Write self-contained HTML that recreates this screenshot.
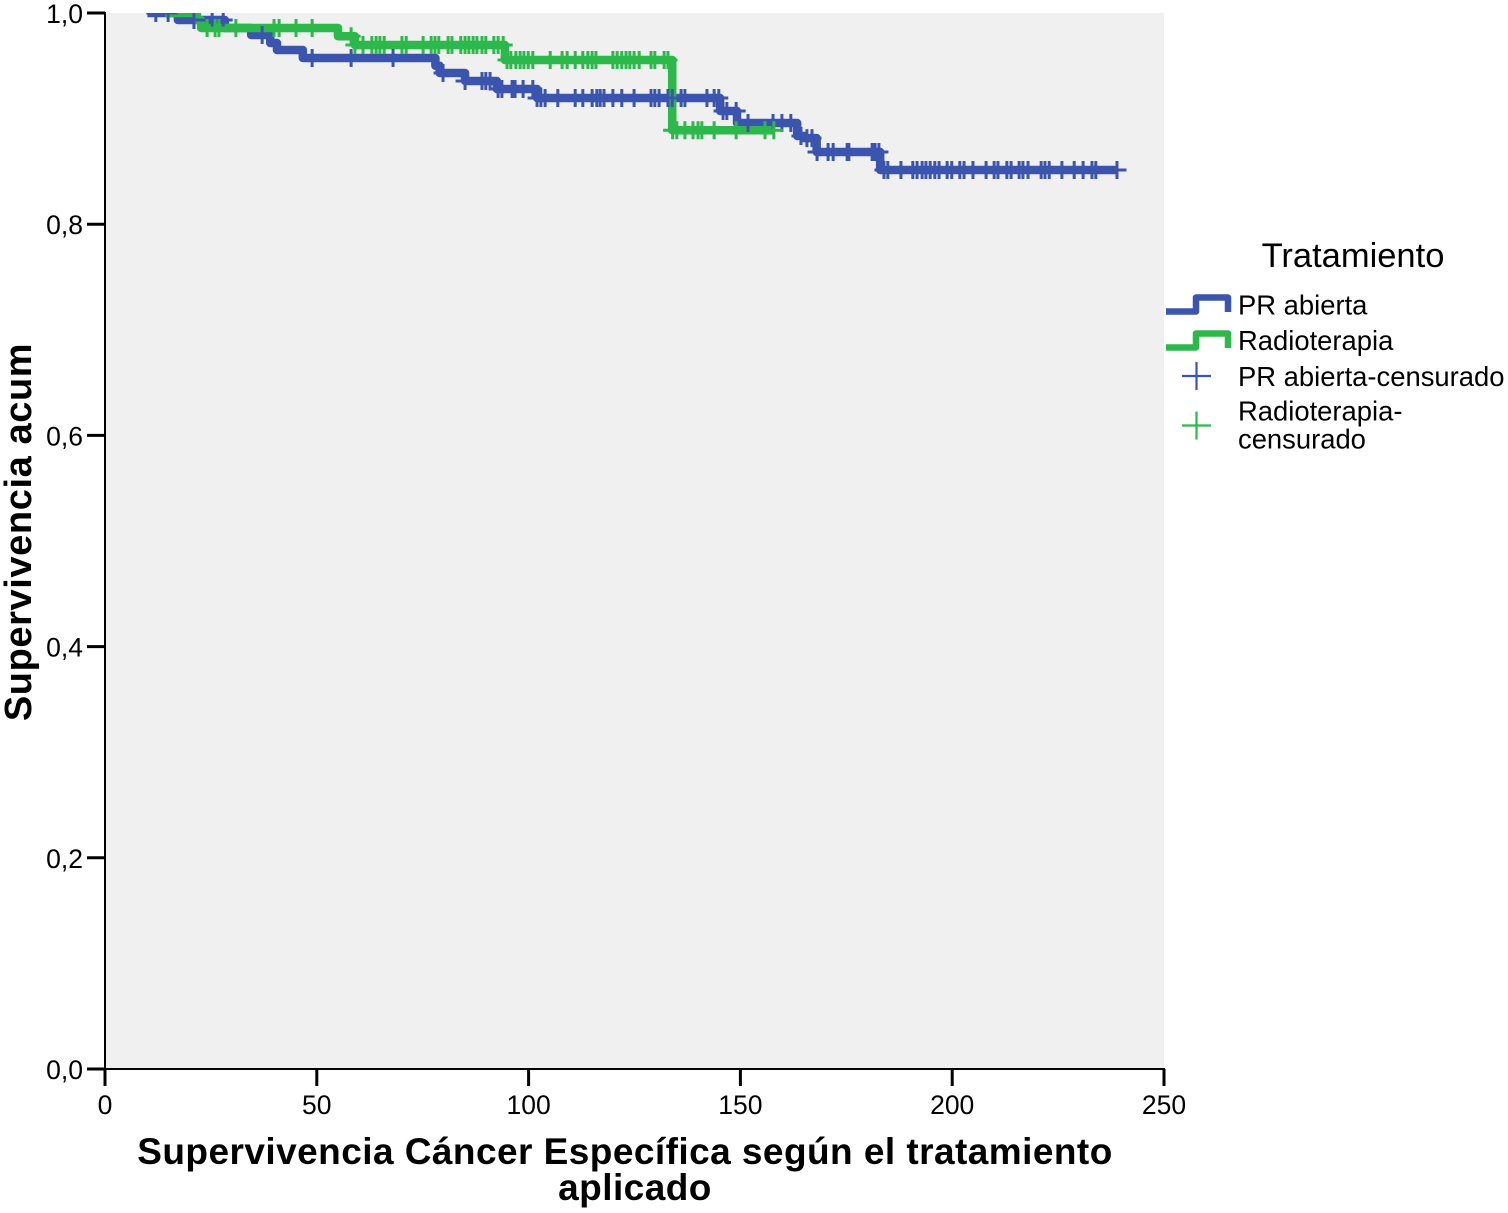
<!DOCTYPE html>
<html>
<head>
<meta charset="utf-8">
<title>Supervivencia</title>
<style>
html,body{margin:0;padding:0;background:#fff;width:1508px;height:1213px;overflow:hidden}
svg{display:block}
text{font-family:"Liberation Sans",Arial,sans-serif;fill:#000}
</style>
</head>
<body>
<svg id="chart" width="1508" height="1213" viewBox="0 0 1508 1213" xmlns="http://www.w3.org/2000/svg">
  <defs><clipPath id="plot-clip"><rect x="105" y="13" width="1059" height="1056"/></clipPath></defs>
  <rect x="106" y="13" width="1058" height="1056" fill="#f0f0f0"/>
  <g id="series" clip-path="url(#plot-clip)"></g>
  <g id="axes"></g>
  <text x="625" y="1164" text-anchor="middle" font-size="37" font-weight="bold" letter-spacing="0.45">Supervivencia Cáncer Específica según el tratamiento</text>
  <text x="635" y="1200" text-anchor="middle" font-size="37" font-weight="bold" letter-spacing="0.45">aplicado</text>
  <text transform="translate(31,532) rotate(-90)" text-anchor="middle" font-size="38" font-weight="bold" letter-spacing="0.6">Supervivencia acum</text>
  <g>
    <text x="1353" y="267" text-anchor="middle" font-size="34.5">Tratamiento</text>
    <path d="M1166 311.5H1196V297.5H1228V312" fill="none" stroke="#3b55ae" stroke-width="6.5" stroke-linejoin="round"/>
    <text x="1238" y="314.5" font-size="27.4">PR abierta</text>
    <path d="M1166 347.5H1196V333.5H1228V348" fill="none" stroke="#2cb84a" stroke-width="6.5" stroke-linejoin="round"/>
    <text x="1238" y="350" font-size="27.4">Radioterapia</text>
    <path d="M1182 376H1211M1196.5 362V390" stroke="#3b55ae" stroke-width="2.2" fill="none"/>
    <text x="1238" y="386" font-size="27.4">PR abierta-censurado</text>
    <path d="M1182 425.5H1211M1196.5 411.5V439.5" stroke="#2cb84a" stroke-width="2.2" fill="none"/>
    <text x="1238" y="420.5" font-size="27.4">Radioterapia-</text>
    <text x="1238" y="448.5" font-size="27.4">censurado</text>
  </g>
</svg>
<script>
var xTicks = [0, 50, 100, 150, 200, 250];
var yTicks = [0, 0.2, 0.4, 0.6, 0.8, 1.0];
var yTickLabels = ["0,0", "0,2", "0,4", "0,6", "0,8", "1,0"];

var prStart = 10;
var prEnd = 238.9;
var prStepTimes = [17.2, 28.3, 34.5, 39, 40.6, 46.7, 78, 79, 85, 92.5, 102, 145.2, 149.2, 163.4, 165, 168, 183];
var prStepSurvival = [0.9934, 0.9858, 0.9792, 0.9716, 0.965, 0.9574, 0.95, 0.9432, 0.9356, 0.928, 0.9195, 0.9072, 0.8958, 0.8835, 0.8815, 0.8684, 0.8513];
var prCensored = [12.0, 14.9, 21.0, 25.3, 27.9, 37.1, 48.9, 58.1, 68.0, 79.8, 85.0, 89.0, 89.9, 90.9, 92.8, 93.7, 96.1, 96.8, 98.7, 101.0, 102.0, 102.9, 103.9, 106.9, 111.0, 112.8, 115.0, 116.1, 116.9, 117.8, 119.9, 122.0, 124.9, 128.9, 129.8, 130.8, 132.9, 133.9, 136.0, 136.9, 142.1, 143.8, 144.9, 145.9, 146.8, 149.0, 151.8, 157.7, 159.8, 161.9, 164.3, 165.7, 166.9, 168.1, 170.7, 171.9, 175.2, 175.6, 181.1, 181.8, 182.7, 183.9, 184.8, 187.9, 190.7, 191.7, 192.9, 193.8, 194.8, 195.9, 196.9, 198.8, 199.9, 201.8, 202.8, 204.9, 208.0, 209.9, 210.8, 212.9, 213.9, 215.8, 216.7, 217.9, 221.0, 221.9, 222.9, 225.9, 228.8, 230.9, 233.0, 233.9, 238.9];

var rtStart = 14.2;
var rtEnd = 157.9;
var rtStepTimes = [21.7, 22.7, 55, 59, 94.4, 133.9];
var rtStepSurvival = [0.9934, 0.9858, 0.978, 0.9697, 0.9555, 0.889];
var rtCensored = [24.1, 26.0, 26.9, 30.9, 39.9, 41.1, 45.1, 48.9, 58.1, 59.0, 60.9, 63.0, 64.0, 64.9, 65.9, 70.1, 71.1, 75.1, 77.0, 77.9, 78.8, 81.0, 81.9, 84.0, 85.0, 85.9, 86.9, 87.8, 89.0, 89.9, 91.8, 92.8, 94.0, 94.9, 95.8, 97.0, 98.0, 98.9, 99.9, 101.0, 105.1, 107.9, 109.1, 111.0, 112.8, 114.0, 115.0, 115.9, 119.9, 120.9, 122.0, 123.0, 123.9, 124.9, 126.1, 128.9, 129.8, 132.0, 132.9, 134.0, 135.0, 136.9, 138.8, 140.0, 140.9, 143.8, 149.0, 155.8, 157.9];

var NS = 'http://www.w3.org/2000/svg';
function xScale(t) { return 105 + t * (1164 - 105) / 250; }
function yScale(s) { return 1069 - s * (1069 - 13); }

function survivalAt(t, times, values) {
  var s = 1;
  for (var i = 0; i < times.length; i++) { if (t >= times[i]) s = values[i]; }
  return s;
}
function stepPath(start, end, times, values) {
  var d = 'M' + xScale(start) + ' ' + yScale(1);
  for (var i = 0; i < times.length; i++) {
    d += 'H' + xScale(times[i]) + 'V' + yScale(values[i]);
  }
  return d + 'H' + xScale(end);
}
function censorPath(censored, times, values) {
  var d = '';
  for (var i = 0; i < censored.length; i++) {
    var x = xScale(censored[i]);
    var y = yScale(survivalAt(censored[i], times, values));
    d += 'M' + (x - 9.5) + ' ' + y + 'H' + (x + 9.5) + 'M' + x + ' ' + (y - 9) + 'V' + (y + 9);
  }
  return d;
}
var seriesGroup = document.getElementById('series');
var axesGroup = document.getElementById('axes');

var prLine = document.createElementNS(NS, 'path');


prLine.setAttribute('d', stepPath(prStart, prEnd, prStepTimes, prStepSurvival));
prLine.setAttribute('fill', 'none');
prLine.setAttribute('stroke', '#3b55ae');
prLine.setAttribute('stroke-width', '8.5');
prLine.setAttribute('stroke-linejoin', 'round');
seriesGroup.appendChild(prLine);

var rtLine = document.createElementNS(NS, 'path');


rtLine.setAttribute('d', stepPath(rtStart, rtEnd, rtStepTimes, rtStepSurvival));
rtLine.setAttribute('fill', 'none');
rtLine.setAttribute('stroke', '#2cb84a');
rtLine.setAttribute('stroke-width', '8.5');
rtLine.setAttribute('stroke-linejoin', 'round');
seriesGroup.appendChild(rtLine);

var prMarks = document.createElementNS(NS, 'path');


prMarks.setAttribute('d', censorPath(prCensored, prStepTimes, prStepSurvival));
prMarks.setAttribute('fill', 'none');
prMarks.setAttribute('stroke', '#3b55ae');
prMarks.setAttribute('stroke-width', '3');
seriesGroup.appendChild(prMarks);

var rtMarks = document.createElementNS(NS, 'path');


rtMarks.setAttribute('d', censorPath(rtCensored, rtStepTimes, rtStepSurvival));
rtMarks.setAttribute('fill', 'none');
rtMarks.setAttribute('stroke', '#2cb84a');
rtMarks.setAttribute('stroke-width', '3');
seriesGroup.appendChild(rtMarks);

var xAxisLine = document.createElementNS(NS, 'line');


xAxisLine.setAttribute('x1', xScale(0) - 1);
xAxisLine.setAttribute('x2', xScale(250) + 1);
xAxisLine.setAttribute('y1', yScale(0));
xAxisLine.setAttribute('y2', yScale(0));
xAxisLine.setAttribute('stroke', '#000');
xAxisLine.setAttribute('stroke-width', '2');
axesGroup.appendChild(xAxisLine);

var yAxisLine = document.createElementNS(NS, 'line');


yAxisLine.setAttribute('x1', xScale(0));
yAxisLine.setAttribute('x2', xScale(0));
yAxisLine.setAttribute('y1', yScale(1) - 1);
yAxisLine.setAttribute('y2', yScale(0) + 1);
yAxisLine.setAttribute('stroke', '#000');
yAxisLine.setAttribute('stroke-width', '2');
axesGroup.appendChild(yAxisLine);

xTicks.forEach(function (v) {
  var tick = document.createElementNS(NS, 'line');
  
  
  tick.setAttribute('x1', xScale(v));
  tick.setAttribute('x2', xScale(v));
  tick.setAttribute('y1', yScale(0));
  tick.setAttribute('y2', yScale(0) + 17);
  tick.setAttribute('stroke', '#000');
  tick.setAttribute('stroke-width', '3');
  axesGroup.appendChild(tick);
  var label = document.createElementNS(NS, 'text');
  
  
  label.setAttribute('x', xScale(v));
  label.setAttribute('y', 1114);
  label.setAttribute('text-anchor', 'middle');
  label.setAttribute('font-size', '26.5');
  label.textContent = String(v);
  axesGroup.appendChild(label);
});

yTicks.forEach(function (v, i) {
  var tick = document.createElementNS(NS, 'line');
  
  
  tick.setAttribute('x1', 87);
  tick.setAttribute('x2', xScale(0));
  tick.setAttribute('y1', yScale(v));
  tick.setAttribute('y2', yScale(v));
  tick.setAttribute('stroke', '#000');
  tick.setAttribute('stroke-width', '3');
  axesGroup.appendChild(tick);
  var label = document.createElementNS(NS, 'text');
  
  
  label.setAttribute('x', 83);
  label.setAttribute('y', yScale(v) + 10);
  label.setAttribute('text-anchor', 'end');
  label.setAttribute('font-size', '26.5');
  label.textContent = yTickLabels[i];
  axesGroup.appendChild(label);
});
</script>
</body>
</html>
